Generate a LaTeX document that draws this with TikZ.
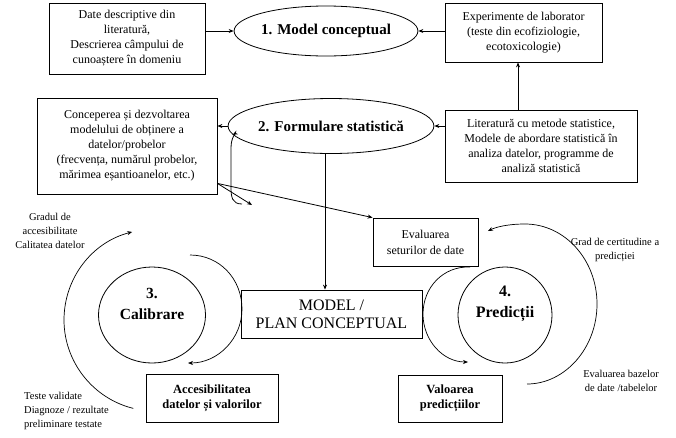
\documentclass[tikz,border=0pt]{standalone}
\usepackage{fontspec}
\setmainfont{LiberationSerif}[Extension=.ttf,UprightFont=*-Regular,BoldFont=*-Bold,ItalicFont=*-Italic,BoldItalicFont=*-BoldItalic]
\usetikzlibrary{arrows.meta,shapes.geometric}
\begin{document}
\begin{tikzpicture}[x=1pt,y=-1pt,
  box/.style={draw,line width=0.8pt,rectangle,inner sep=0pt,align=center,font=\fontsize{12}{15}\selectfont},
  bbox/.style={draw,line width=0.8pt,rectangle,inner sep=0pt,align=center,font=\bfseries\fontsize{12.5}{15}\selectfont},
  oval/.style={draw,line width=0.8pt,ellipse,inner sep=0pt,font=\bfseries\fontsize{15}{18}\selectfont},
  ring/.style={draw,line width=0.8pt,ellipse,inner sep=0pt},
  ringtext/.style={inner sep=0pt,align=center,font=\bfseries\fontsize{15.5}{21}\selectfont},
  lbl/.style={font=\fontsize{10.5}{14}\selectfont,inner sep=0pt},
  tip/.style={-{Stealth[length=5pt,width=4pt]}},
  conn/.style={line width=0.8pt,tip},
  arcline/.style={line width=0.7pt}]
\useasboundingbox[fill=white] (0,0) rectangle (676,437);

% top row
\node[box,minimum width=156pt,minimum height=71pt] (A) at (127,38.5)
  {Date descriptive din\\literatură,\\Descrierea câmpului de\\cunoaștere în domeniu};
\node[oval,minimum width=168pt,minimum height=50pt] (e1) at (326,31) {1. Model conceptual};
\node[box,minimum width=157pt,minimum height=59pt] (B) at (523.5,32.5)
  {Experimente de laborator\\(teste din ecofiziologie,\\ecotoxicologie)};

% second row
\node[box,minimum width=180pt,minimum height=96pt] (C) at (127,146)
  {Conceperea și dezvoltarea\\modelului de obținere a\\datelor/probelor\\(frecvența, numărul probelor,\\mărimea eșantioanelor, etc.)};
\node[oval,minimum width=178pt,minimum height=55pt] (e2) at (331,126) {2. Formulare statistică};
\node[box,minimum width=192pt,minimum height=72pt] (D) at (541,146)
  {Literatură cu metode statistice,\\Modele de abordare statistică în\\analiza datelor, programme de\\analiză statistică};

% middle
\node[box,minimum width=105pt,minimum height=48pt,font=\fontsize{12}{16}\selectfont] (E) at (425.5,242)
  {Evaluarea\\seturilor de date};
\node[box,minimum width=181pt,minimum height=48pt,font=\fontsize{16}{18}\selectfont] (M) at (331.5,314)
  {MODEL /\\PLAN CONCEPTUAL};

% rings
\node[ring,minimum width=107pt,minimum height=96pt] (c3) at (152,315) {};
\node[ringtext] (c3t) at (152,304) {3.\\Calibrare};
\node[ring,minimum width=94pt,minimum height=96pt] (c4) at (505,315) {};
\node[ringtext,font=\bfseries\fontsize{16}{21}\selectfont] (c4t) at (505,304) {4.\\Predicții};

% bottom boxes
\node[bbox,minimum width=132pt,minimum height=48pt] (F) at (212,398)
  {Accesibilitatea\\datelor și valorilor};
\node[bbox,minimum width=104pt,minimum height=47pt] (G) at (450,398.5)
  {Valoarea\\predicțiilor};

% labels
\node[lbl,align=center] (g1) at (50,231) {Gradul de\\accesibilitate\\Calitatea datelor};
\node[lbl,align=left,anchor=west] (g2) at (24,411) {Teste validate\\Diagnoze / rezultate\\preliminare testate};
\node[lbl,align=center] (g3) at (615,250) {Grad de certitudine a\\predicției};
\node[lbl,align=center] (g4) at (621,381) {Evaluarea bazelor\\de date /tabelelor};

% connectors
\draw[conn] (A.east |- e1.west) -- (e1.west);
\draw[conn] (B.west |- e1.east) -- (e1.east);
\draw[conn] ([xshift=-23pt]D.north) -- ([xshift=-23pt]D.north |- B.south);
\draw[conn] (D.west |- e2.east) -- (e2.east);
\draw[conn] (e2.west) -- (e2.west -| C.east);
\draw[conn] ([xshift=-6pt]e2.south) -- ([xshift=-6pt]e2.south |- M.north);
\coordinate (cs) at ([yshift=11pt]C.south east);
\draw[conn] (cs) -- (E.north west);
\coordinate (t1) at (252,205);
\draw[conn] (cs) -- (t1);
\coordinate (h1) at (242,204);
\draw[conn] (h1) .. controls (232,204) and (231,197) .. (231,187) -- (231,148) .. controls (231,137) and (236,133) .. (e2.185);

% arcs
\draw[arcline,tip] (190,255) .. controls (219.8,255) and (242,279.2) .. (242,309) .. controls (242,338.8) and (217.8,363) .. (188,363);
\draw[arcline,{Stealth[length=5pt,width=4pt]}-] (132.2,231.9) .. controls (91.8,242.3) and (64,278.3) .. (64,320) .. controls (64,361.7) and (92.9,398.5) .. (133.4,408.4);
\draw[arcline,tip] (470,267) .. controls (443,266) and (423,287.5) .. (423,314) .. controls (423,340.5) and (443,362) .. (468,362);
\draw[arcline,tip] (527,384) .. controls (564.8,384) and (597,348.2) .. (597,304) .. controls (597,259.8) and (564.8,224) .. (525,224) .. controls (508,224) and (496,227) .. (488,231);
\end{tikzpicture}
\end{document}
